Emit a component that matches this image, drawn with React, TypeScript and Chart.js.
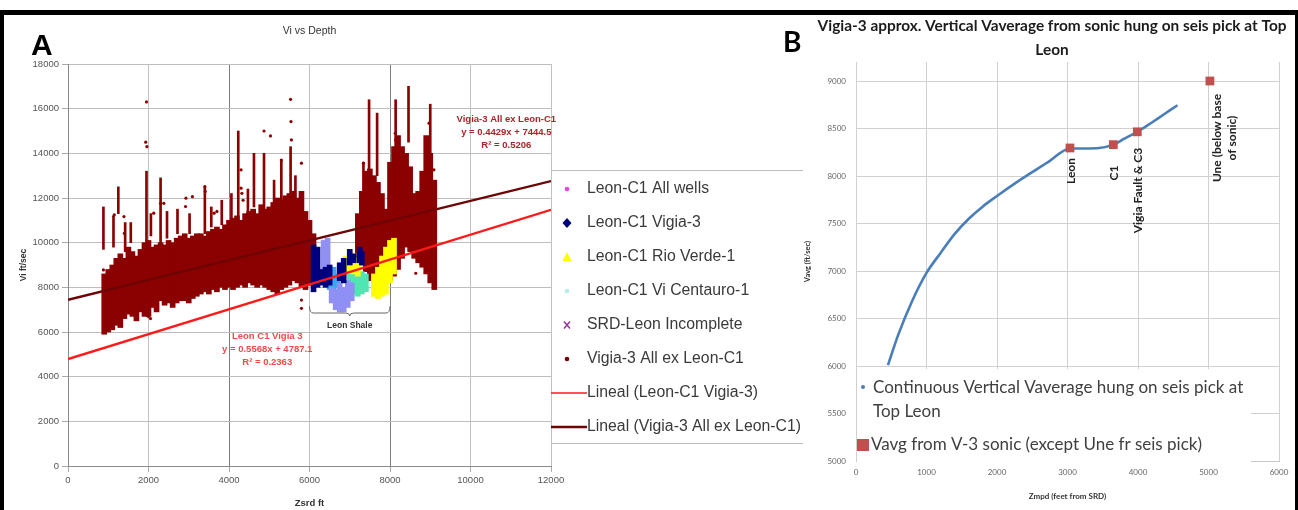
import React, { useEffect, useRef } from 'react';
import { Chart, registerables } from 'chart.js';

Chart.register(...registerables);

const ARIAL = '"Liberation Sans", Arial, sans-serif';
const CALIBRI = 'Lato, "Open Sans", sans-serif';

/* ================= Panel A : Vi vs Depth ================= */
const aTitle = 'Vi vs Depth';
const aXTitle = 'Zsrd ft';
const aYTitle = 'Vi ft/sec';
const aXTicks = [0, 2000, 4000, 6000, 8000, 10000, 12000];
const aYTicks = [0, 2000, 4000, 6000, 8000, 10000, 12000, 14000, 16000, 18000];

// Vigia-3 All ex Leon-C1 : dense cloud read as low / high Vi per depth step (ft, ft/sec)
const vigiaBandDepth = [
  900, 1000, 1100, 1200, 1300, 1400, 1500, 1600, 1700, 1800, 1900, 2000, 2100, 2200, 2300, 2400, 2500, 2600,
  2700, 2800, 2900, 3000, 3100, 3200, 3300, 3400, 3500, 3600, 3700, 3800, 3900, 4000, 4100, 4200, 4300, 4400,
  4500, 4600, 4700, 4800, 4900, 5000, 5100, 5200, 5300, 5400, 5500, 5600, 5700, 5800, 5900, 6000, 6100,
  7200, 7300, 7400, 7500, 7600, 7700, 7800, 7900, 8000, 8100, 8200, 8300, 8400, 8500, 8600, 8700, 8800, 8900,
  9000, 9100,
];
const vigiaBandLow = [
  5900, 6000, 6100, 6300, 6200, 6600, 6800, 6700, 6500, 6900, 6700, 6700, 7100, 6900, 7400, 7200, 7300, 7100,
  7300, 7400, 7400, 7300, 7500, 7600, 7700, 7800, 7700, 7900, 7800, 8000, 7900, 8000, 7900, 8000, 8100, 8000,
  8200, 8100, 8000, 8100, 8000, 7900, 7800, 7700, 7900, 8000, 8100, 8300, 8200, 8000, 7900, 8100, 8400,
  9300, 9000, 8700, 8300, 8200, 8100, 8000, 8300, 8300, 8500, 8800, 9300, 9800, 9600, 9300, 9100, 8900, 8600,
  8200, 7900,
];
const vigiaBandHigh = [
  8600, 8800, 9000, 9300, 9500, 9300, 9800, 9600, 9400, 9700, 10000, 10100, 9800, 9900, 10000, 9900, 10100, 10000,
  10200, 10300, 10400, 10200, 10300, 10400, 10400, 10300, 10500, 10600, 10700, 10600, 10800, 11000, 11100, 11200, 11000, 11300,
  11400, 11500, 11300, 11700, 11500, 11600, 11800, 12000, 11900, 12100, 12200, 12300, 12000, 12300, 11400, 11000, 10400,
  11300, 12300, 13200, 13300, 13000, 12700, 12200, 11500, 13600, 14300, 14800, 14300, 14000, 13400, 12200, 12300, 13200, 14800,
  14000, 12800,
];

// Vigia-3 All ex Leon-C1 : thin dotted spikes
const vigiaStreakDepth = [
  880, 1130, 1250, 1420, 1560, 1950, 2060, 2300, 2460, 2720, 3020, 3400, 3560, 3820, 4060, 4230, 4470, 4620,
  4870, 5120, 5300, 5530, 5650, 7340, 7480, 7680, 8140, 8460, 9000,
];
const vigiaStreakLow = [
  9700, 9800, 11300, 9600, 10000, 9800, 10300, 9900, 10200, 10400, 10400, 10400, 10700, 10800, 11000, 11200, 11300, 11600,
  10500, 11800, 11500, 11600, 11000, 11500, 13300, 13000, 14000, 14500, 13000,
];
const vigiaStreakHigh = [
  11600, 11100, 12500, 10900, 10900, 13200, 11300, 12900, 11400, 11500, 11300, 12500, 11600, 11900, 12200, 15000, 12400, 14000,
  14000, 12800, 13700, 14300, 13000, 13600, 16400, 15800, 16400, 17000, 16200,
];

// Vigia-3 All ex Leon-C1 : isolated points
const vigiaDotDepth = [
  1950, 1930, 1960, 1150, 1130, 1390, 1400, 2130, 2300, 2380, 2930, 2920, 3090, 3400, 3410, 3630, 3700,
  4300, 4300, 4320, 4870, 5030, 5530, 5540, 5550, 5300, 5800, 5800, 5800, 2000, 2050, 7340, 8130, 8140,
  8970, 9090, 8630, 8640, 880, 4350,
];
const vigiaDotVi = [
  16300, 14500, 14300, 11250, 11170, 11170, 10420, 11320, 11760, 11760, 11990, 11620, 12060, 12510, 12290, 11320, 11400,
  13260, 12440, 12210, 15000, 14780, 16420, 15420, 14600, 13700, 13560, 7430, 7060, 6690, 6600, 13560, 14900, 14600,
  15350, 13260, 9820, 8630, 8780, 11900,
];

// Leon-C1 Vigia-3 (navy)
const leonVigiaDepth = [6100, 6200, 6300, 6400, 6500, 6750, 6850, 7000, 7100, 7250, 7300];
const leonVigiaLow = [7800, 8000, 8100, 8000, 8100, 8300, 8200, 9000, 9100, 9100, 9000];
const leonVigiaHigh = [9900, 9800, 8800, 8900, 9000, 9100, 9300, 9700, 9500, 9800, 9600];

// Leon-C1 Rio Verde-1 (yellow)
const leonRioDepth = [6900, 7000, 7100, 7200, 7600, 7700, 7800, 7900, 8000, 8100];
const leonRioLow = [8600, 8700, 8600, 8500, 7600, 7500, 7600, 7700, 8200, 8600];
const leonRioHigh = [9400, 9600, 9500, 9300, 8600, 8900, 9400, 9800, 10100, 10200];

// Leon-C1 Vi Centauro-1 (aqua / sky shades)
const leonCentauroDepth = [7000, 7100, 7200, 7300, 7400];
const leonCentauroLow = [7800, 7700, 7600, 7700, 7800];
const leonCentauroHigh = [8600, 8900, 8800, 8700, 8600];
const leonCentauroSkyDepth = [6500, 6600, 6700];
const leonCentauroSkyLow = [7900, 7800, 8000];
const leonCentauroSkyHigh = [8700, 8900, 8600];

// SRD-Leon Incomplete (lavender)
const srdLeonDepth = [6350, 6450, 6550, 6650, 6750, 6850, 6950, 7050];
const srdLeonLow = [8500, 8400, 7300, 7000, 6900, 6900, 7100, 7400];
const srdLeonHigh = [10100, 10200, 8000, 7900, 8200, 8000, 8300, 8200];

// Leon-C1 All wells (underneath the per-well points)
const leonAllDepth = [6300, 6800, 7300, 7800];
const leonAllVi = [8300, 7600, 8200, 8000];

// Linear trend lines (end points from the printed equations)
const trendLeonDepth = [0, 12000];
const trendLeonVi = [4787, 11469];
const trendVigiaDepth = [0, 12000];
const trendVigiaVi = [7444, 12759];

const trendVigiaText = ['Vigia-3 All ex Leon-C1', 'y = 0.4429x + 7444.5', 'R\u00b2 = 0.5206'];
const trendVigiaAnchor = [10890, 15500];
const trendLeonText = ['Leon C1 Vigia 3', 'y = 0.5568x + 4787.1', 'R\u00b2 = 0.2363'];
const trendLeonAnchor = [4950, 5800];
const leonShaleText = 'Leon Shale';
const leonShaleRange = [6000, 8000];

const legendALabels = [
  'Leon-C1 All wells',
  'Leon-C1 Vigia-3',
  'Leon-C1 Rio Verde-1',
  'Leon-C1 Vi Centauro-1',
  'SRD-Leon Incomplete',
  'Vigia-3 All ex Leon-C1',
  'Lineal (Leon-C1 Vigia-3)',
  'Lineal (Vigia-3 All ex Leon-C1)',
];

/* ================= Panel B : Vaverage ================= */
const bTitle = ['Vigia-3 approx. Vertical Vaverage from sonic hung on seis pick at Top', 'Leon'];
const bXTitle = 'Zmpd (feet from SRD)';
const bYTitle = 'Vavg (ft/sec)';
const bXTicks = [0, 1000, 2000, 3000, 4000, 5000, 6000];
const bYTicks = [5000, 5500, 6000, 6500, 7000, 7500, 8000, 8500, 9000];
const bYTop = 9200;

const vavgDepth = [454, 600, 800, 1000, 1200, 1400, 1600, 1800, 2000, 2250, 2500, 2750, 3035, 3250, 3450, 3650, 3800, 3990, 4150, 4300, 4450, 4560];
const vavgValue = [6010, 6330, 6690, 6980, 7190, 7390, 7550, 7680, 7790, 7920, 8040, 8160, 8290, 8290, 8295, 8330, 8390, 8465, 8540, 8615, 8690, 8745];

const pickDepth = [3035, 3650, 3990, 5020];
const pickVavg = [8295, 8330, 8465, 9000];
const pickLabels = [['Leon'], ['C1'], ['Vigia Fault & C3'], ['Une (below base', 'of sonic)']];

const legendBLabels = ['Continuous Vertical Vaverage hung on seis pick at', 'Top Leon', 'Vavg from V-3 sonic (except Une fr seis pick)'];

/* ================= helpers ================= */
const toBars = (d: number[], lo: number[], hi: number[]) => d.map((x, i) => ({ x, y: [lo[i], hi[i]] }));
const toPts = (d: number[], v: number[]) => d.map((x, i) => ({ x, y: v[i] }));
const fixedTicks = (values: number[]) => (s: any) => { s.ticks = values.map((value) => ({ value })); };
const plain = (v: any) => String(v);

const barDs = (label: string, data: any[], color: string, order: number, thickness = 5) => ({
  type: 'bar',
  label,
  data,
  backgroundColor: color,
  borderWidth: 0,
  barThickness: thickness,
  grouped: false,
  order,
});

const panelAPlugin = {
  id: 'panelA',
  afterDraw(chart: any) {
    const { ctx, chartArea: ca, scales } = chart;
    const xs = scales.x;
    const ys = scales.y;
    ctx.save();
    // title
    ctx.textAlign = 'center';
    ctx.textBaseline = 'middle';
    ctx.fillStyle = '#333';
    ctx.font = `10.5px ${ARIAL}`;
    ctx.fillText(aTitle, (ca.left + ca.right) / 2, 31);

    // trend equations
    ctx.font = `bold 9.5px ${ARIAL}`;
    ctx.fillStyle = '#a8262a';
    const vx = xs.getPixelForValue(trendVigiaAnchor[0]);
    const vy = ys.getPixelForValue(trendVigiaAnchor[1]);
    trendVigiaText.forEach((t, i) => ctx.fillText(t, vx, vy + i * 13));
    ctx.fillStyle = '#f24a4a';
    const lx = xs.getPixelForValue(trendLeonAnchor[0]);
    const ly = ys.getPixelForValue(trendLeonAnchor[1]);
    trendLeonText.forEach((t, i) => ctx.fillText(t, lx, ly + i * 13));

    // Leon Shale bracket
    const x1 = xs.getPixelForValue(leonShaleRange[0]);
    const x2 = xs.getPixelForValue(leonShaleRange[1]);
    const xm = (x1 + x2) / 2;
    const yLine = ys.getPixelForValue(6850);
    const yTop = ys.getPixelForValue(7150);
    ctx.strokeStyle = '#666';
    ctx.lineWidth = 1;
    ctx.beginPath();
    ctx.moveTo(x1, yTop);
    ctx.quadraticCurveTo(x1, yLine, x1 + 4, yLine);
    ctx.lineTo(xm - 4, yLine);
    ctx.quadraticCurveTo(xm, yLine, xm, yLine + 3);
    ctx.quadraticCurveTo(xm, yLine, xm + 4, yLine);
    ctx.lineTo(x2 - 4, yLine);
    ctx.quadraticCurveTo(x2, yLine, x2, yTop);
    ctx.stroke();
    ctx.fillStyle = '#333';
    ctx.font = `bold 8.5px ${ARIAL}`;
    ctx.fillText(leonShaleText, xm, ys.getPixelForValue(6300));

    // legend
    const lx0 = ca.right;
    ctx.strokeStyle = '#bcbcbc';
    ctx.beginPath();
    ctx.moveTo(lx0 + 1, 170.5);
    ctx.lineTo(803, 170.5);
    ctx.moveTo(lx0 + 1, 443.5);
    ctx.lineTo(803, 443.5);
    ctx.stroke();
    ctx.textAlign = 'left';
    ctx.font = `15.8px ${ARIAL}`;
    const mx = lx0 + 16;
    legendALabels.forEach((t, i) => {
      const y = 189 + i * 34;
      ctx.fillStyle = '#3a3a3a';
      ctx.fillText(t, lx0 + 36, y);
      switch (i) {
        case 0:
        case 3:
        case 5: {
          ctx.fillStyle = i === 0 ? '#e844e8' : i === 3 ? '#b4eeee' : '#7a0000';
          ctx.beginPath();
          ctx.arc(mx, y, 2.3, 0, Math.PI * 2);
          ctx.fill();
          break;
        }
        case 1: {
          ctx.fillStyle = '#00007a';
          ctx.beginPath();
          ctx.moveTo(mx, y - 5);
          ctx.lineTo(mx + 4.5, y);
          ctx.lineTo(mx, y + 5);
          ctx.lineTo(mx - 4.5, y);
          ctx.closePath();
          ctx.fill();
          break;
        }
        case 2: {
          ctx.fillStyle = '#ffff00';
          ctx.beginPath();
          ctx.moveTo(mx, y - 5);
          ctx.lineTo(mx + 4.5, y + 4);
          ctx.lineTo(mx - 4.5, y + 4);
          ctx.closePath();
          ctx.fill();
          break;
        }
        case 4: {
          ctx.strokeStyle = '#9a3aa0';
          ctx.lineWidth = 1.6;
          ctx.beginPath();
          ctx.moveTo(mx - 3, y - 3.5);
          ctx.lineTo(mx + 3, y + 3.5);
          ctx.moveTo(mx + 3, y - 3.5);
          ctx.lineTo(mx - 3, y + 3.5);
          ctx.stroke();
          break;
        }
        case 6:
        case 7: {
          ctx.strokeStyle = i === 6 ? '#ff1a1a' : '#6e0505';
          ctx.lineWidth = i === 6 ? 1.5 : 2.6;
          ctx.beginPath();
          ctx.moveTo(lx0, y);
          ctx.lineTo(lx0 + 36, y);
          ctx.stroke();
          break;
        }
      }
    });
    ctx.restore();
  },
};

const panelBPlugin = {
  id: 'panelB',
  afterDatasetsDraw(chart: any) {
    const { ctx, chartArea: ca } = chart;
    ctx.save();
    // pick labels (rotated)
    const meta = chart.getDatasetMeta(1);
    ctx.fillStyle = '#222';
    ctx.font = `bold 12px ${CALIBRI}`;
    ctx.textBaseline = 'middle';
    const gaps = [10, 21, 16];
    meta.data.forEach((p: any, i: number) => {
      const lines = pickLabels[i];
      ctx.save();
      if (lines.length === 1) {
        ctx.translate(p.x + 1, p.y + gaps[i]);
        ctx.rotate(-Math.PI / 2);
        ctx.textAlign = 'right';
        ctx.fillText(lines[0], 0, 0);
      } else {
        ctx.translate(p.x, p.y + 57);
        ctx.rotate(-Math.PI / 2);
        ctx.textAlign = 'center';
        lines.forEach((l, k) => ctx.fillText(l, 0, 7 + k * 15));
      }
      ctx.restore();
    });

    // legend box over the plot
    const top = ca.bottom - 92;
    ctx.fillStyle = '#fff';
    ctx.fillRect(ca.left + 1, top, 394, ca.bottom - top + 1);
    ctx.textAlign = 'left';
    ctx.font = `17px ${CALIBRI}`;
    ctx.fillStyle = '#4a7ebb';
    ctx.beginPath();
    ctx.arc(ca.left + 7, ca.bottom - 74, 2, 0, Math.PI * 2);
    ctx.fill();
    ctx.fillStyle = '#404040';
    ctx.fillText(legendBLabels[0], ca.left + 17, ca.bottom - 73);
    ctx.fillText(legendBLabels[1], ca.left + 17, ca.bottom - 49);
    ctx.fillStyle = '#c0504d';
    ctx.fillRect(ca.left + 1, ca.bottom - 22, 12, 12);
    ctx.fillStyle = '#404040';
    ctx.fillText(legendBLabels[2], ca.left + 15, ca.bottom - 16);
    ctx.restore();
  },
  afterDraw(chart: any) {
    const { ctx } = chart;
    ctx.save();
    ctx.fillStyle = '#1c1c1c';
    ctx.font = `bold 15.4px ${CALIBRI}`;
    ctx.textAlign = 'center';
    ctx.textBaseline = 'middle';
    ctx.fillText(bTitle[0], 262, 26);
    ctx.fillText(bTitle[1], 262, 50);
    ctx.restore();
  },
};

export default function App() {
  const refA = useRef<HTMLCanvasElement>(null);
  const refB = useRef<HTMLCanvasElement>(null);

  useEffect(() => {
    const tickFontA = { family: ARIAL, size: 9.5 };
    const chartA = new Chart(refA.current as HTMLCanvasElement, {
      type: 'scatter',
      data: {
        datasets: [
          {
            type: 'line',
            label: 'Lineal (Leon-C1 Vigia-3)',
            data: toPts(trendLeonDepth, trendLeonVi),
            borderColor: '#ff1a1a',
            borderWidth: 2.4,
            pointRadius: 0,
            order: 0,
          },
          {
            type: 'line',
            label: 'Lineal (Vigia-3 All ex Leon-C1)',
            data: toPts(trendVigiaDepth, trendVigiaVi),
            borderColor: '#6e0505',
            borderWidth: 2.4,
            pointRadius: 0,
            order: 0,
          },
          barDs('Leon-C1 Vigia-3', toBars(leonVigiaDepth, leonVigiaLow, leonVigiaHigh), '#00007f', 1),
          barDs('SRD-Leon Incomplete', toBars(srdLeonDepth, srdLeonLow, srdLeonHigh), '#8f8ff5', 2),
          barDs('Leon-C1 Vi Centauro-1', toBars(leonCentauroSkyDepth, leonCentauroSkyLow, leonCentauroSkyHigh), '#3aa6ee', 2),
          barDs('Leon-C1 Vi Centauro-1', toBars(leonCentauroDepth, leonCentauroLow, leonCentauroHigh), '#4fe6b4', 2),
          barDs('Leon-C1 Rio Verde-1', toBars(leonRioDepth, leonRioLow, leonRioHigh), '#ffff00', 1),
          {
            type: 'scatter',
            label: 'Vigia-3 All ex Leon-C1',
            data: toPts(vigiaDotDepth, vigiaDotVi),
            backgroundColor: '#8b0000',
            borderWidth: 0,
            pointRadius: 1.6,
            order: 5,
          },
          barDs('Vigia-3 All ex Leon-C1', toBars(vigiaStreakDepth, vigiaStreakLow, vigiaStreakHigh), '#8b0000', 6, 2),
          barDs('Vigia-3 All ex Leon-C1', toBars(vigiaBandDepth, vigiaBandLow, vigiaBandHigh), '#8b0000', 7, 5),
          {
            type: 'scatter',
            label: 'Leon-C1 All wells',
            data: toPts(leonAllDepth, leonAllVi),
            backgroundColor: '#e844e8',
            borderWidth: 0,
            pointRadius: 1.6,
            order: 9,
          },
        ] as any,
      },
      options: {
        animation: false,
        responsive: false,
        maintainAspectRatio: false,
        devicePixelRatio: 1,
        layout: { padding: { top: 64, right: 259, bottom: 0, left: 0 } },
        plugins: { legend: { display: false }, tooltip: { enabled: false }, title: { display: false } },
        scales: {
          x: {
            type: 'linear',
            min: aXTicks[0],
            max: aXTicks[aXTicks.length - 1],
            offset: false,
            afterBuildTicks: fixedTicks(aXTicks),
            ticks: { callback: plain, color: '#555', font: tickFontA, padding: 3, maxRotation: 0 },
            grid: {
              offset: false,
              color: (c: any) => (c.tick && (c.tick.value === 4000 || c.tick.value === 8000) ? '#7e7e7e' : '#c2c2c2'),
              tickLength: 6,
              tickColor: '#aaa',
            },
            border: { color: '#8a8a8a' },
            title: { display: true, text: aXTitle, color: '#333', font: { family: ARIAL, size: 9.5, weight: 'bold' }, padding: { top: 0, bottom: 1.3 } },
            afterFit: (s: any) => { s.height = 44; },
          },
          y: {
            type: 'linear',
            min: aYTicks[0],
            max: aYTicks[aYTicks.length - 1],
            afterBuildTicks: fixedTicks(aYTicks),
            ticks: { callback: plain, color: '#555', font: tickFontA, padding: 3 },
            grid: { color: '#bdbdbd', tickLength: 6, tickColor: '#aaa' },
            border: { color: '#8a8a8a' },
            title: { display: true, text: aYTitle, color: '#333', font: { family: ARIAL, size: 8.5, weight: 'bold' }, padding: { top: 18.9, bottom: 0 } },
            afterFit: (s: any) => { s.width = 68; },
          },
        },
      } as any,
      plugins: [panelAPlugin],
    });

    const tickFontB = { family: CALIBRI, size: 8 };
    const chartB = new Chart(refB.current as HTMLCanvasElement, {
      type: 'scatter',
      data: {
        datasets: [
          {
            type: 'line',
            label: 'Continuous Vertical Vaverage hung on seis pick at Top Leon',
            data: toPts(vavgDepth, vavgValue),
            borderColor: '#4a7ebb',
            borderWidth: 2.6,
            pointRadius: 0,
            cubicInterpolationMode: 'monotone',
            order: 1,
          },
          {
            type: 'scatter',
            label: 'Vavg from V-3 sonic (except Une fr seis pick)',
            data: toPts(pickDepth, pickVavg),
            backgroundColor: '#c0504d',
            borderWidth: 0,
            pointStyle: 'rect',
            pointRadius: 6.2,
            order: 0,
          },
        ] as any,
      },
      options: {
        animation: false,
        responsive: false,
        maintainAspectRatio: false,
        devicePixelRatio: 1,
        layout: { padding: { top: 62, right: 19, bottom: 0, left: 0 } },
        plugins: { legend: { display: false }, tooltip: { enabled: false }, title: { display: false } },
        scales: {
          x: {
            type: 'linear',
            min: bXTicks[0],
            max: bXTicks[bXTicks.length - 1],
            offset: false,
            afterBuildTicks: fixedTicks(bXTicks),
            ticks: { callback: plain, color: '#666', font: tickFontB, padding: 7, maxRotation: 0 },
            grid: { color: '#d0d0d0', drawTicks: false },
            border: { color: '#c8c8c8' },
            title: { display: true, text: bXTitle, color: '#333', font: { family: CALIBRI, size: 8, weight: 'bold' }, padding: { top: 0, bottom: 9 } },
            afterFit: (s: any) => { s.height = 49; },
          },
          y: {
            type: 'linear',
            min: bYTicks[0],
            max: bYTop,
            afterBuildTicks: fixedTicks(bYTicks),
            ticks: { callback: plain, color: '#666', font: tickFontB, padding: 10 },
            grid: { color: '#d0d0d0', drawTicks: false },
            border: { display: false },
            title: { display: true, text: bYTitle, color: '#333', font: { family: CALIBRI, size: 7.5, weight: 'bold' }, padding: { top: 13.5, bottom: 0 } },
            afterFit: (s: any) => { s.width = 66; },
          },
        },
      } as any,
      plugins: [panelBPlugin],
    });

    return () => {
      chartA.destroy();
      chartB.destroy();
    };
  }, []);

  return (
    <div style={{ position: 'fixed', left: 0, top: 0, width: 1298, height: 510, overflow: 'hidden', background: '#fff' }}>
      <canvas ref={refA} width={810} height={510} style={{ position: 'absolute', left: 0, top: 0, width: 810, height: 510 }} />
      <canvas ref={refB} width={508} height={510} style={{ position: 'absolute', left: 790, top: 0, width: 508, height: 510 }} />
      <div style={{ position: 'absolute', left: 0, top: 10, width: 1298, height: 5, background: '#000' }} />
      <div style={{ position: 'absolute', left: 0, top: 10, width: 4, height: 500, background: '#000' }} />
      <div style={{ position: 'absolute', left: 1295, top: 10, width: 3, height: 500, background: '#000' }} />
      <div style={{ position: 'absolute', left: 31, top: 29.6, fontFamily: ARIAL, fontWeight: 'bold', fontSize: 30, lineHeight: '30px', color: '#000' }}>A</div>
      <div style={{ position: 'absolute', left: 783, top: 27, fontFamily: CALIBRI, fontWeight: 'bold', fontSize: 28, lineHeight: '28px', color: '#000' }}>B</div>
    </div>
  );
}
